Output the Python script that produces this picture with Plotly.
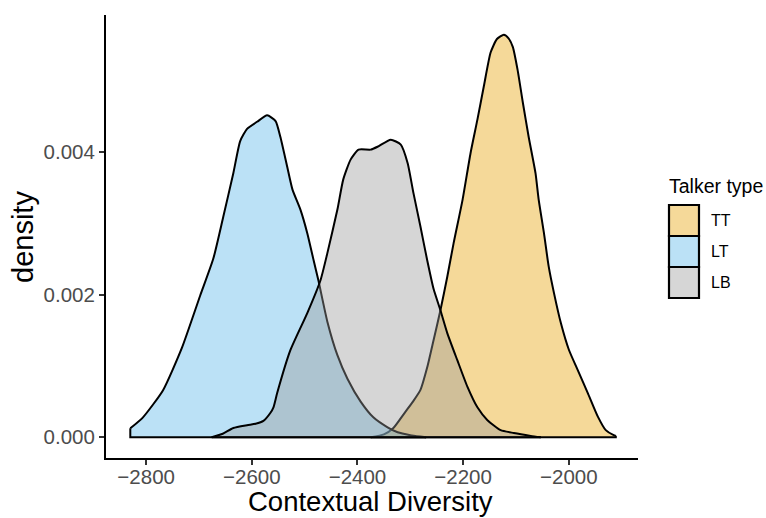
import plotly.graph_objects as go

# ---- data ----
groups = ["TT", "LT", "LB"]
base_colors = {"TT": "230,159,0", "LT": "86,180,233", "LB": "153,153,153"}
alpha = 0.4

tt_x = [-2375, -2350, -2332, -2310, -2295, -2281, -2268, -2256, -2243, -2230, -2218, -2201, -2186,
        -2173, -2161, -2148, -2136, -2123, -2114, -2106, -2097, -2087, -2076, -2063, -2057, -2047,
        -2038, -2028, -2015, -2000, -1983, -1964, -1945, -1930, -1915, -1911]
tt_y = [0.0, 0.00004, 0.00013, 0.00035, 0.0005, 0.00066, 0.00098, 0.00136, 0.00178, 0.00225, 0.00272,
        0.00333, 0.00398, 0.00445, 0.00491, 0.00539, 0.00558, 0.00564, 0.00559, 0.00547, 0.00515,
        0.00469, 0.00421, 0.0037, 0.00333, 0.00286, 0.00239, 0.00202, 0.0016, 0.00123, 0.00094,
        0.00062, 0.00029, 0.0001, 0.00003, 0.00002]

lt_x = [-2830, -2806, -2768, -2732, -2698, -2673, -2654, -2635, -2622, -2609, -2590, -2571, -2555,
        -2546, -2533, -2523, -2508, -2495, -2483, -2474, -2457, -2438, -2419, -2394, -2370, -2343,
        -2324, -2300, -2281, -2270]
lt_y = [0.000126, 0.00028, 0.00066, 0.00126, 0.00198, 0.0025, 0.00309, 0.0037, 0.00415, 0.00432,
        0.00442, 0.00451, 0.00443, 0.00421, 0.00379, 0.00347, 0.00319, 0.00286, 0.00248, 0.0022,
        0.00162, 0.00115, 0.00082, 0.0005, 0.00028, 0.00014, 0.00007, 0.00003, 0.00001, 0.0]

lb_x = [-2676, -2655, -2635, -2609, -2593, -2578, -2565, -2559, -2552, -2527, -2495, -2470, -2457,
        -2438, -2427, -2413, -2398, -2375, -2362, -2337, -2318, -2305, -2294, -2281, -2268, -2256,
        -2243, -2230, -2211, -2192, -2173, -2154, -2129, -2104, -2072, -2053]
lb_y = [0.0, 0.00005, 0.00013, 0.00017, 0.00019, 0.00023, 0.00034, 0.00042, 0.00062, 0.00122, 0.00174,
        0.0022, 0.00258, 0.00319, 0.00361, 0.00389, 0.00403, 0.00403, 0.00407, 0.00417, 0.0041,
        0.00384, 0.00342, 0.00296, 0.00248, 0.00208, 0.00178, 0.00146, 0.00108, 0.00071, 0.00042,
        0.00024, 0.0001, 0.00006, 0.00002, 0.0]

series = {"TT": (tt_x, tt_y), "LT": (lt_x, lt_y), "LB": (lb_x, lb_y)}

x_ticks = [-2800, -2600, -2400, -2200, -2000]
x_ticktext = ["\u22122800", "\u22122600", "\u22122400", "\u22122200", "\u22122000"]
y_ticks = [0.0, 0.002, 0.004]
y_ticktext = ["0.000", "0.002", "0.004"]
x_title = "Contextual Diversity"
y_title = "density"
legend_title = "Talker type"

FONT = "Liberation Sans, Arial, sans-serif"
LW = 2.0

fig = go.Figure()
for g in groups:
    xs, ys = series[g]
    # filled density curve
    fig.add_trace(go.Scatter(
        x=xs, y=ys, mode="lines", fill="tozeroy",
        fillcolor=f"rgba({base_colors[g]},{alpha})",
        line=dict(color="black", width=LW, shape="spline", smoothing=0.55),
        name=g, showlegend=False, hoverinfo="skip"))
    # outline closing along the baseline
    fig.add_trace(go.Scatter(
        x=[xs[0], xs[0], xs[-1], xs[-1]], y=[ys[0], 0.0, 0.0, ys[-1]], mode="lines",
        line=dict(color="black", width=LW), showlegend=False, hoverinfo="skip"))

fig.update_layout(
    width=766, height=518,
    margin=dict(l=106, r=128, t=15, b=60),
    paper_bgcolor="white", plot_bgcolor="white",
    font=dict(family=FONT, color="black"),
    showlegend=False,
    xaxis=dict(range=[-2876, -1869], tickvals=x_ticks, ticktext=x_ticktext, automargin=False,
               showgrid=False, zeroline=False, showline=True, linecolor="black", linewidth=2,
               ticks="outside", ticklen=5, tickwidth=1.5, tickcolor="#333333",
               ticklabelstandoff=-6,
               tickfont=dict(size=20.5, color="#4d4d4d", family=FONT)),
    yaxis=dict(range=[-0.00029, 0.005916], tickvals=y_ticks, ticktext=y_ticktext, automargin=False,
               showgrid=False, zeroline=False, showline=True, linecolor="black", linewidth=2,
               ticks="outside", ticklen=5, tickwidth=1.5, tickcolor="#333333",
               tickfont=dict(size=20.5, color="#4d4d4d", family=FONT)),
)

# ---- pixel helpers for text placed in paper coordinates ----
W, H = 766, 518
l, r, t, b = 106, 128, 15, 60
pw, ph = W - l - r, H - t - b
def pxx(x):
    return (x - l) / pw
def pxy(y):
    return (H - b - y) / ph

# axis titles
fig.add_annotation(xref="paper", yref="paper", x=pxx(370), y=pxy(501), text=x_title,
                   showarrow=False, xanchor="center", yanchor="middle",
                   font=dict(size=27.5, color="black", family=FONT))
fig.add_annotation(xref="paper", yref="paper", x=pxx(23), y=pxy(237), text=y_title,
                   showarrow=False, xanchor="center", yanchor="middle", textangle=-90,
                   font=dict(size=29, color="black", family=FONT))

# ---- manual legend (ggplot style) ----
key_tops = [205, 236, 267]
key_h = 31
for g, top in zip(groups, key_tops):
    fig.add_shape(type="rect", xref="paper", yref="paper",
                  x0=pxx(669), x1=pxx(699), y0=pxy(top + key_h), y1=pxy(top),
                  fillcolor=f"rgba({base_colors[g]},{alpha})",
                  line=dict(color="black", width=2.2))
    fig.add_annotation(xref="paper", yref="paper", x=pxx(709), y=pxy(top + key_h / 2),
                       text=g, showarrow=False, xanchor="left", yanchor="middle",
                       font=dict(size=16, color="black", family=FONT))
fig.add_annotation(xref="paper", yref="paper", x=pxx(667), y=pxy(186),
                   text=legend_title, showarrow=False, xanchor="left", yanchor="middle",
                   font=dict(size=19.5, color="black", family=FONT))

fig.write_html("out.html")
